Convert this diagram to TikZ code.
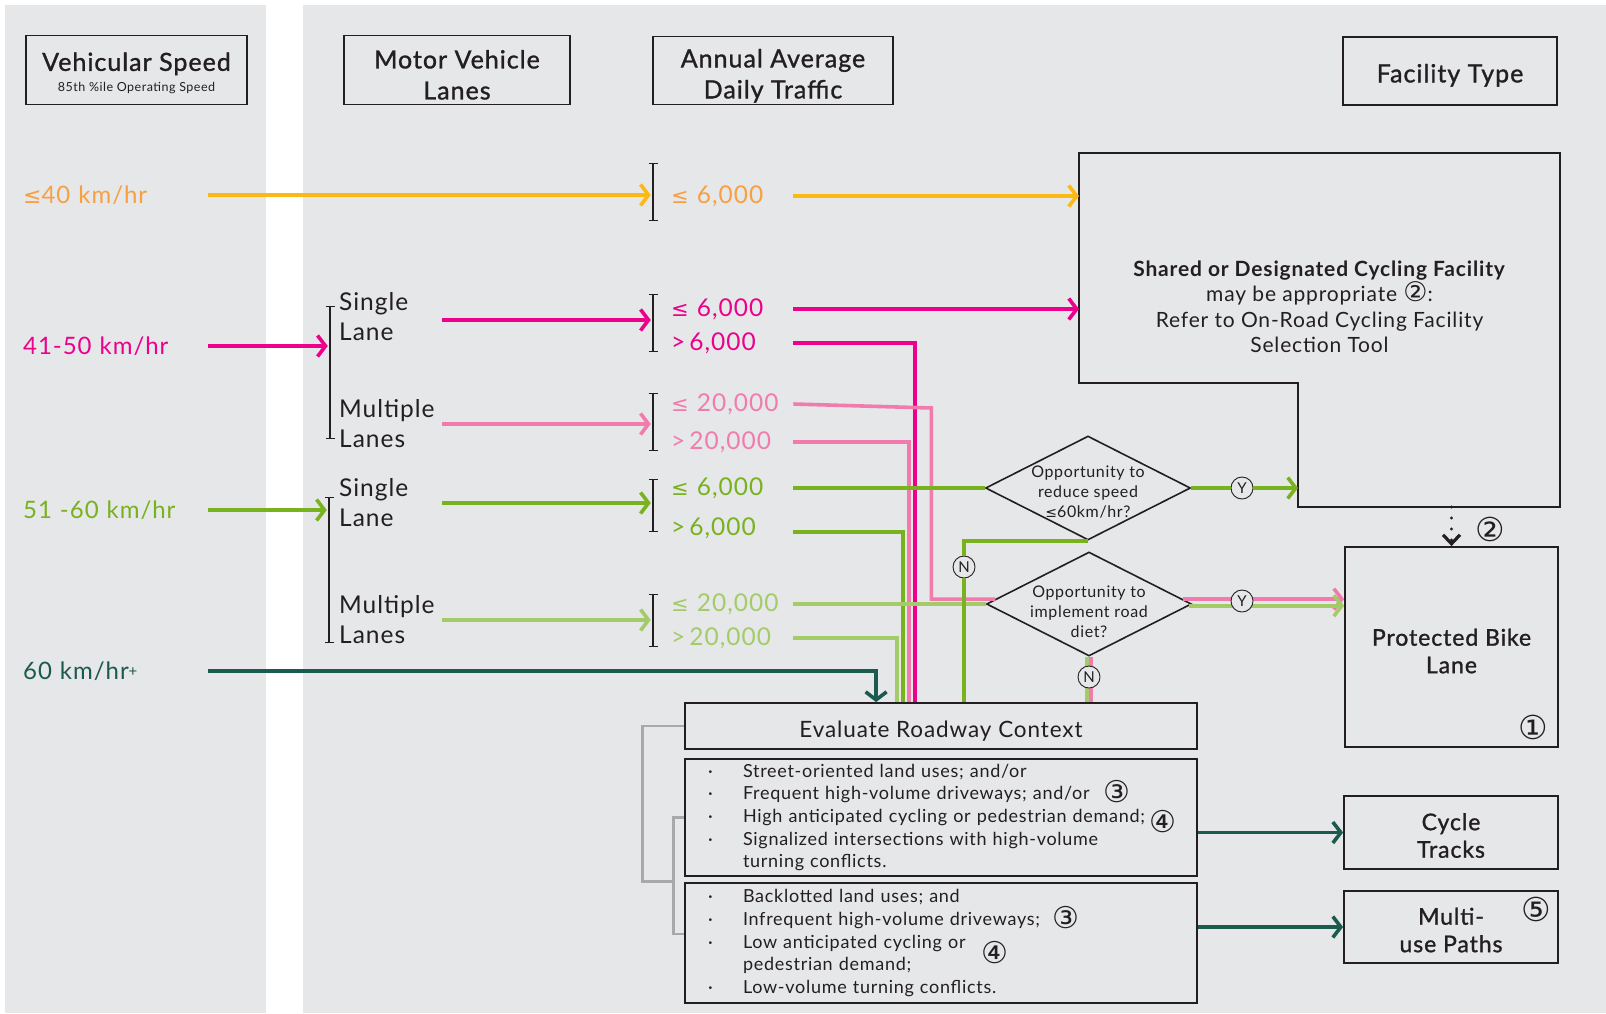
\documentclass[tikz,border=0pt]{standalone}
\usepackage{fontspec}
\setmainfont[LetterSpace=4]{Lato}
\newfontfamily\symfont{DejaVu Sans}
\newfontfamily\medfont[FakeBold=1.2,LetterSpace=4]{Lato}
\usetikzlibrary{arrows.meta,shapes.geometric,positioning,calc}

\definecolor{panel}{HTML}{E6E7E8}
\definecolor{ink}{HTML}{231F20}
\definecolor{yel}{HTML}{FDB913}
\definecolor{orgtxt}{HTML}{F7A043}
\definecolor{mag}{HTML}{EC008C}
\definecolor{pnk}{HTML}{F27BAE}
\definecolor{grn}{HTML}{78B21E}
\definecolor{lgrn}{HTML}{A3CC68}
\definecolor{dteal}{HTML}{1B5A4E}
\definecolor{gbrk}{HTML}{A7A9AC}

\newcommand{\fsz}[2]{\fontsize{#1}{#2}\selectfont}
\newcommand{\circd}[2][33]{{\symfont\fsz{#1}{#1}#2}}
\newcommand{\circs}[3][33]{\rlap{\raisebox{#2}[0pt][0pt]{\circd[#1]{#3}}}}
\newcommand{\lte}[1]{{\symfont\fsz{#1}{#1}≤}}
\newcommand{\dn}[1]{\rule{0pt}{#1}}
\newcommand{\bul}{\hspace*{23pt}\makebox[35pt][l]{·}}
\newcommand{\lowstack}[2]{\raisebox{#1}[0pt][0pt]{\begin{tabular}{@{}c@{}}#2\end{tabular}}}

\tikzset{
  barb/.tip={Straight Barb[length=8pt,width=21pt]},
  flow/.style={line width=3.6pt},
  box/.style={draw=ink,line width=1.8pt,fill=panel,inner sep=0pt,align=center,text=ink},
  hdr/.style={box,font=\medfont\fsz{25}{31}},
  fac/.style={box,font=\medfont\fsz{23}{27.5}},
  spd/.style={anchor=west,text width=182pt,inner sep=3pt,align=left,font=\fsz{24}{28}},
  lane/.style={anchor=west,text width=100pt,inner sep=3pt,align=left,text=ink,font=\fsz{24.5}{30}},
  adt/.style={anchor=west,text width=119pt,inner sep=3pt,align=left,font=\fsz{24.5}{26}},
  brk/.style={inner sep=0pt,minimum width=0pt},
  ibeam/.style={draw=ink,line width=1.6pt,arrows={Bar[width=9pt]-Bar[width=9pt]}},
  ask/.style={diamond,draw=ink,fill=panel,line width=1.6pt,aspect=2,inner sep=0pt,minimum width=205pt,minimum height=104pt,text=ink,font=\fsz{16}{20}},
  yn/.style={circle,draw=ink,line width=0.9pt,fill=panel,inner sep=0pt,minimum size=22pt,text=ink,font=\fsz{15}{15}},
  crit/.style={box,minimum width=512pt,text width=512pt,align=left,font=\fsz{18}{22.7}},
  gline/.style={gbrk,line width=2.8pt},
}

\begin{document}
\begin{tikzpicture}[x=1pt,y=-1pt]
	\useasboundingbox (0,0) rectangle (1606,1013);
	\fill[white] (0,0) rectangle (1606,1013);
	\fill[panel] (5,5) rectangle (266,1013);
	\fill[panel] (303,5) rectangle (1606,1013);

	% column heads
	\node[hdr,minimum width=221pt,minimum height=69pt] (hspeed) at (136.5,70) {\dn{25pt}Vehicular Speed\\[-10pt]{\normalfont\fsz{12.5}{12.5}85th \%ile Operating Speed}};
	\node[hdr,minimum width=226pt,minimum height=69pt] (hlanes) at (457,70) {\dn{28pt}Motor Vehicle\\Lanes};
	\node[hdr,minimum width=240pt,minimum height=68pt] (hadt) at (773,70.5) {\dn{29pt}Annual Average\\Daily Traffic};
	\node[hdr,minimum width=214pt,minimum height=68pt] (hfac) at (1450,71) {\dn{27pt}Facility Type};

	% speeds
	\node[spd,text=orgtxt] (s40) at (20,195) {\lte{22}40 km/hr};
	\node[spd,text=mag] (s50) at (20,346) {41-50 km/hr};
	\node[spd,text=grn] (s60) at (20,510) {51 -60 km/hr};
	\node[spd,text=dteal] (s60p) at (20,671) {60 km/hr{\fsz{15}{15}\raisebox{3pt}{+}}};

	% lanes
	\node[lane] (l5s) at (336,317) {Single\\Lane};
	\node[lane] (l5m) at (336,424) {Multiple\\Lanes};
	\node[lane] (l6s) at (336,503) {Single\\Lane};
	\node[lane] (l6m) at (336,620) {Multiple\\Lanes};
	\node[brk,minimum height=133pt] (lb5) at (330,372.5) {};
	\node[brk,minimum height=146pt] (lb6) at (329,570) {};
	\draw[ibeam] (lb5.north) -- (lb5.south);
	\draw[ibeam] (lb6.north) -- (lb6.south);

	% daily traffic
	\node[brk,minimum height=58pt] (b40) at (653,192) {};
	\node[brk,minimum height=58pt] (b5s) at (653,323) {};
	\node[brk,minimum height=58pt] (b5m) at (653,422) {};
	\node[brk,minimum height=53pt] (b6s) at (653,505.5) {};
	\node[brk,minimum height=53pt] (b6m) at (653,620.5) {};
	\foreach \b in {b40,b5s,b5m,b6s,b6m}
		\draw[ibeam] (\b.north) -- (\b.south);
	\node[adt,text=orgtxt] (a40) at (668,196) {\lte{21} 6,000};
	\node[adt,text=mag] (a5s1) at (668,309) {\lte{21} 6,000};
	\node[adt,text=mag] (a5s2) at (668,343) {>\,6,000};
	\node[adt,text=pnk] (a5m1) at (668,404) {\lte{21} 20,000};
	\node[adt,text=pnk] (a5m2) at (668,442) {>\,20,000};
	\node[adt,text=grn] (a6s1) at (668,488) {\lte{21} 6,000};
	\node[adt,text=grn] (a6s2) at (668,528) {>\,6,000};
	\node[adt,text=lgrn] (a6m1) at (668,604) {\lte{21} 20,000};
	\node[adt,text=lgrn] (a6m2) at (668,638) {>\,20,000};

	% shared facility
	\coordinate (shNW) at (1079,153);
	\coordinate (shSE) at (1560,507);
	\coordinate (notch) at (1298,383);
	\draw[ink,line width=1.8pt] (shNW) -| (shSE) -| (notch) -| (shNW |- notch) -- cycle;
	\node[align=center,text=ink,font=\fsz{21}{25.5}] (shared) at (1319.5,307) {\textbf{Shared or Designated Cycling Facility}\\may be appropriate \circd[27]{\smash{②}}:\\Refer to On-Road Cycling Facility\\Selection Tool};

	% questions
	\node[ask] (d1) at (1088,488) {\lowstack{-10pt}{Opportunity to\\reduce speed\\\lte{14}60km/hr?}};
	\node[ask] (d2) at (1089,604) {\lowstack{-14pt}{Opportunity to\\implement road\\diet?}};
	\node[yn] (y1) at (1242,488) {Y};
	\node[yn] (n1) at (964,567) {N};

	% evaluate roadway context
	\node[box,minimum width=512pt,minimum height=46pt,font=\fsz{22.5}{26}] (eval) at (941,726) {\dn{26pt}Evaluate Roadway Context};
	\node[crit,minimum height=117pt] (crit1) at (941,817.5) {%
		\bul Street-oriented land uses; and/or\\
		\bul Frequent high-volume driveways; and/or\hspace{14pt}\circs[30]{-3pt}{③}\\
		\bul High anticipated cycling or pedestrian demand;\hspace{5pt}\circs[30]{-10pt}{④}\\
		\bul Signalized intersections with high-volume\\
		\hspace*{58pt}turning conflicts.};
	\node[crit,minimum height=120pt] (crit2) at (941,943) {%
		\bul Backlotted land uses; and\\
		\bul Infrequent high-volume driveways;\hspace{12pt}\circs[30]{-3pt}{③}\\
		\bul Low anticipated cycling or\hspace{16pt}\circs[30]{-15pt}{④}\\
		\hspace*{58pt}pedestrian demand;\\
		\bul Low-volume turning conflicts.};
	\draw[gline] (crit1.west) -- ++(-11,0) |- ([yshift=9pt]crit2.west);
	\draw[gline] (eval.west) -- ++(-42,0) |- ($(crit1.south west)!0.5!(crit2.north west)+(-11,2)$);

	% facility types
	\node[fac,minimum width=213pt,minimum height=200pt] (pbl) at (1451.5,647) {\dn{25pt}Protected Bike\\Lane};
	\node[fac,minimum width=214pt,minimum height=73pt] (ctr) at (1451,832.5) {\dn{23pt}Cycle\\Tracks};
	\node[fac,minimum width=214pt,minimum height=72pt] (mup) at (1451,927) {\dn{23pt}Multi-\\use Paths};
	\node[text=ink] (c1) at (1533,727) {\circd{①}};
	\node[text=ink] (c5) at (1536,909) {\circd{⑤}};
	\node[text=ink] (c2) at (1490,529) {\circd{②}};

	% speed and lane arrows
	\draw[flow,yel,-barb,shorten >=2pt] (s40.east) -- (s40.east -| b40.west);
	\draw[flow,mag,-barb,shorten >=2pt] (s50.east) -- (s50.east -| lb5.west);
	\draw[flow,grn,-barb,shorten >=2pt] (s60.east) -- (s60.east -| lb6.west);
	\draw[flow,mag,-barb,shorten >=2pt] ([yshift=-3pt]l5s.east) -- ([yshift=-3pt]l5s.east -| b5s.west);
	\draw[flow,pnk,-barb,shorten >=2pt] (l5m.east) -- (l5m.east -| b5m.west);
	\draw[flow,grn,-barb,shorten >=2pt] (l6s.east) -- (l6s.east -| b6s.west);
	\draw[flow,lgrn,-barb,shorten >=2pt] (l6m.east) -- (l6m.east -| b6m.west);

	% traffic to outcomes
	\draw[flow,yel,-barb] (a40.east) -- (a40.east -| shNW);
	\draw[flow,mag,-barb] (a5s1.east) -- (a5s1.east -| shNW);
	\draw[flow,lgrn] (a6m2.east) -| ([xshift=213pt]eval.north west);
	\draw[flow,grn] ([yshift=-4pt]a6s2.east) -| ([xshift=219pt]eval.north west);
	\draw[flow,pnk] (a5m2.east) -| ([xshift=225pt]eval.north west);
	\draw[flow,mag] (a5s2.east) -| ([xshift=231pt]eval.north west);
	\draw[flow,pnk] (a5m1.east) -- ++(138,4) |- (d2.177);
	\draw[flow,grn] (a6s1.east) -- (d1.west);
	\draw[flow,lgrn] (a6m1.east) -- (d2.west);
	\draw[flow,dteal,-barb] (s60p.east) -| ([xshift=192pt]eval.north west);

	% answers
	\draw[flow,grn,-barb] (d1.east) -- (y1) -- (y1 -| notch);
	\draw[flow,grn] (d1.south) -| (n1) -- (n1 |- eval.north);
	\draw[flow,pnk,-barb] (d2.3) -- (d2.3 -| pbl.west);
	\draw[flow,lgrn,-barb] (d2.359) -- (d2.359 -| pbl.west);
	\draw[flow,lgrn] ([xshift=-2pt]d2.south) -- ([xshift=-2pt]d2.south |- eval.north);
	\draw[flow,pnk] ([xshift=2pt]d2.south) -- ([xshift=2pt]d2.south |- eval.north);
	\node[yn] (y2) at (1242,601) {Y};
	\node[yn] (n2) at (1089,677) {N};
	\draw[ink,line width=3.2pt,line cap=round,dash pattern=on 0pt off 11pt,-{Straight Barb[length=9pt,width=17pt]}] (pbl.north |- shSE) -- (pbl.north);
	\draw[flow,dteal,-barb] (ctr.west -| crit1.east) -- (ctr.west);
	\draw[flow,dteal,-barb] (mup.west -| crit2.east) -- (mup.west);
\end{tikzpicture}
\end{document}
